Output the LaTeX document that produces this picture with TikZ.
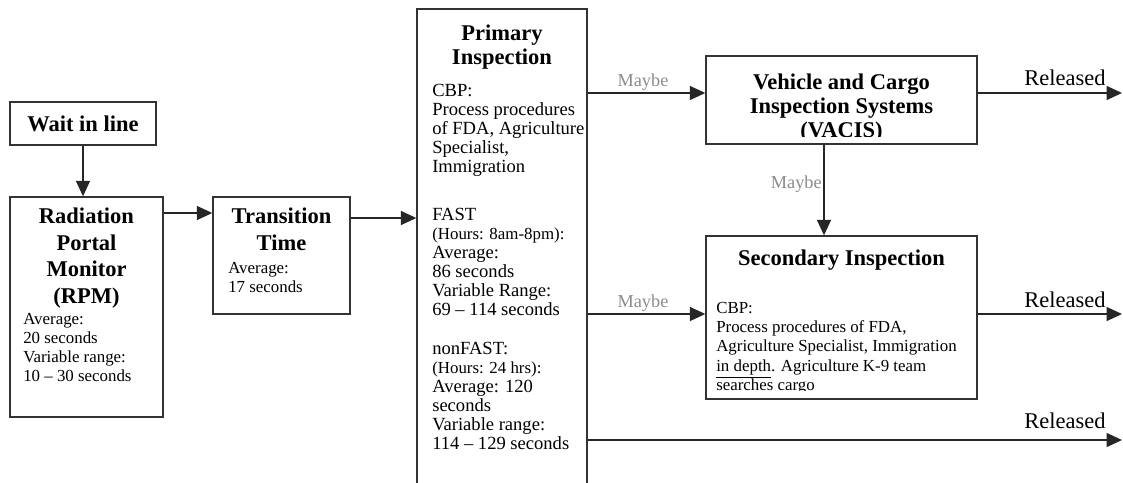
\documentclass[tikz,border=0pt]{standalone}
\usepackage{fontspec}
\setmainfont{Liberation Serif}
\usetikzlibrary{arrows.meta,fit,positioning}

\begin{document}
\begin{tikzpicture}[x=.025cm,y=-.025cm,
	box/.style={draw=black!80,line width=1pt,inner sep=0pt},
	boxtitle/.style={font=\fontsize{16}{18.8}\selectfont\bfseries,align=center,inner sep=0pt,anchor=north},
	boxtext/.style={font=\fontsize{12}{13.5}\selectfont,align=left,inner sep=0pt,anchor=north west},
	flow/.style={draw=black!85,line width=.9pt,-{Triangle[length=11pt,width=10pt]}},
	maybe/.style={text=black!45,font=\fontsize{13}{15}\selectfont,inner sep=0pt,anchor=base},
	freed/.style={font=\fontsize{16}{18}\selectfont,inner sep=0pt,anchor=base}]

	\useasboundingbox (0,0) rectangle (1123,482);
	\clip (0,0) rectangle (1123,482);

	% boxes
	\node[box,fit={(10,102) (156,145)}] (wait) {};
	\node[box,fit={(10,197) (163,417)}] (rpm) {};
	\node[box,fit={(213,197) (350,314)}] (trans) {};
	\node[box,fit={(417,9) (587,500)}] (prim) {};
	\node[box,fit={(706,56) (977,144)}] (vacis) {};
	\node[box,fit={(706,236) (977,399)}] (sec) {};

	% texts
	\node[boxtitle,anchor=center] (waittitle) at (wait.center) {Wait in line};

	\node[boxtitle] (rpmtitle) at (86.5,208) {Radiation\\Portal\\Monitor\\(RPM)};
	\node[boxtext] (rpmtext) at (23,313) {Average:\\20 seconds\\Variable range:\\10 -- 30 seconds};

	\node[boxtitle] (transtitle) at (281.5,208) {Transition\\Time};
	\node[boxtext] (transtext) at (228,262) {Average:\\17 seconds};

	\node[boxtitle,font=\fontsize{16}{16.5}\selectfont\bfseries] (primtitle) at (502,25) {Primary\\Inspection};
	\node[boxtext,font=\fontsize{13.2}{13.5}\selectfont] (primtext) at (432,84) {CBP:\\
		Process procedures\\
		of FDA, Agriculture\\
		Specialist,\\
		Immigration\\[20.6pt]
		FAST\\
		{\fontsize{12}{13.5}\selectfont(Hours: 8am-8pm):}\\
		Average:\\
		86 seconds\\
		Variable Range:\\
		69 -- 114 seconds\\[14.2pt]
		nonFAST:\\
		{\fontsize{12}{13.5}\selectfont(Hours: 24 hrs):}\\
		Average: 120\\
		seconds\\
		Variable range:\\
		114 -- 129 seconds};

	\begin{scope}
		\clip (706,56) rectangle (977,136);
		\node[boxtitle,font=\fontsize{16}{17}\selectfont\bfseries] (vacistitle) at (841.5,74) {Vehicle and Cargo\\Inspection Systems\\(VACIS)};
	\end{scope}

	\node[boxtitle] (sectitle) at (841.5,250) {Secondary Inspection};
	\begin{scope}
		\clip (706,236) rectangle (977,390);
		\node[boxtext,font=\fontsize{12}{13.7}\selectfont] (sectext) at (716,302) {CBP:\\
			Process procedures of FDA,\\
			Agriculture Specialist, Immigration\\
			\underline{in depth}. Agriculture K-9 team\\
			searches cargo};
	\end{scope}

	% connectors
	\coordinate (rowA) at (0,93);
	\coordinate (rowB) at (0,213);
	\coordinate (rowC) at (0,218);
	\coordinate (rowD) at (0,314);
	\coordinate (rowE) at (0,440);
	\coordinate (colV) at (824,0);
	\coordinate (endA) at (1122,93);
	\coordinate (endB) at (1122,314);
	\coordinate (endC) at (1122,440);

	\draw[flow] (wait.south) -- (wait.south |- rpm.north);
	\draw[flow] (rpm.east |- rowB) -- (trans.west |- rowB);
	\draw[flow] (trans.east |- rowC) -- (prim.west |- rowC);
	\draw[flow] (prim.east |- rowA) -- (vacis.west |- rowA);
	\draw[flow] (vacis.east |- rowA) -- (endA);
	\draw[flow] (vacis.south -| colV) -- (sec.north -| colV);
	\draw[flow] (prim.east |- rowD) -- (sec.west |- rowD);
	\draw[flow] (sec.east |- rowD) -- (endB);
	\draw[flow] (prim.east |- rowE) -- (endC);

	% labels
	\node[maybe] (maybeA) at (643,86) {Maybe};
	\node[maybe,anchor=base east] (maybeB) at (822,188) {Maybe};
	\node[maybe] (maybeC) at (643,307) {Maybe};

	\node[freed] (freedA) at (1065,85) {Released};
	\node[freed] (freedB) at (1065,307) {Released};
	\node[freed] (freedC) at (1065,428) {Released};
\end{tikzpicture}
\end{document}
